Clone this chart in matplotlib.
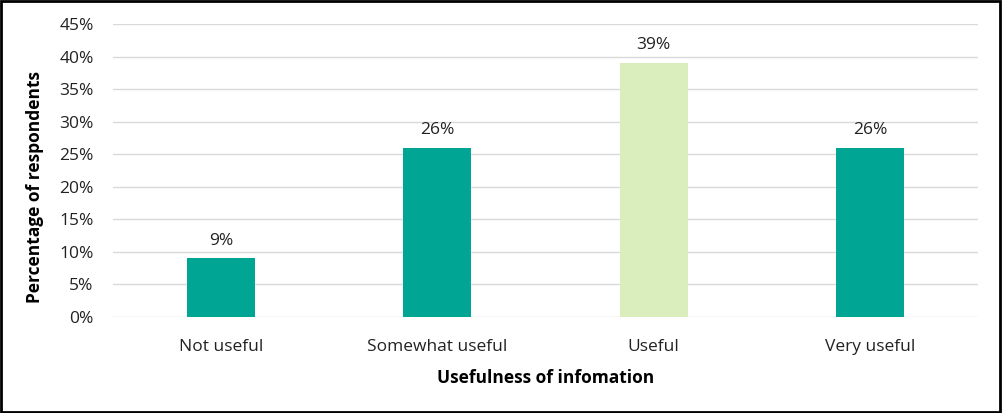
import numpy as np
import matplotlib.pyplot as plt
from matplotlib.patches import Rectangle

# Data
categories = ["Not useful", "Somewhat useful", "Useful", "Very useful"]
values = [9, 26, 39, 26]
colors = ["#00A693", "#00A693", "#D9EDBD", "#00A693"]

plt.rcParams['font.family'] = ['Open Sans', 'DejaVu Sans']

fig = plt.figure(figsize=(10.02, 4.13), dpi=100)
ax = fig.add_axes([0.1128, 0.2324, 0.8632, 0.7095])

x = np.arange(len(categories))
ax.bar(x, values, width=0.314, color=colors, zorder=3)

for xi, v in zip(x, values):
    ax.text(xi, v + 1.5, f"{v}%", ha="center", va="bottom", fontsize=12.5, color="#222222")

ax.set_xlim(-0.5, len(categories) - 0.5)
ax.set_ylim(0, 45)
ax.set_yticks(np.arange(0, 46, 5))
ax.set_yticklabels([f"{t}%" for t in range(0, 46, 5)], fontsize=12.5, color="#222222")
ax.set_xticks(x)
ax.set_xticklabels(categories, fontsize=12.5, color="#222222")
ax.tick_params(axis="x", length=0, pad=16)
ax.tick_params(axis="y", length=0, pad=14)
ax.grid(axis="y", color="#d9d9d9", linewidth=1, zorder=0)
for s in ax.spines.values():
    s.set_visible(False)

ax.set_xlabel("Usefulness of infomation", fontsize=12.5, fontweight="bold", labelpad=10)
ax.set_ylabel("Percentage of respondents", fontsize=12.5, fontweight="bold")
ax.yaxis.set_label_coords(-0.08, 0.445)

# border around figure
fig.patches.append(Rectangle((0.001, 0.002), 0.997, 0.995, transform=fig.transFigure,
                             fill=False, edgecolor="black", linewidth=2))

fig.savefig("out.png", dpi=100)
